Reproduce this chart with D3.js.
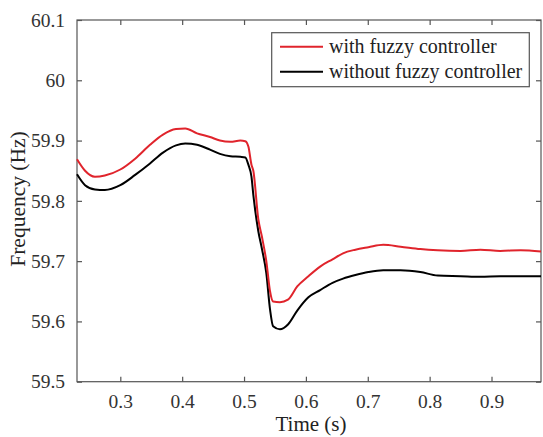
<!DOCTYPE html>
<html><head><meta charset="utf-8">
<script src="https://cdn.jsdelivr.net/npm/d3@7"></script>
<style>body{margin:0;background:#fff;}svg{display:block;}</style>
</head><body>
<svg id="c" width="543" height="437"></svg>
<script>
const time = [0.230,0.243,0.259,0.275,0.300,0.324,0.348,0.369,0.390,0.405,0.424,0.445,0.461,0.478,0.494,0.502,0.507,0.512,0.515,0.523,0.529,0.536,0.542,0.547,0.558,0.571,0.586,0.604,0.623,0.643,0.660,0.680,0.701,0.725,0.753,0.785,0.813,0.850,0.882,0.914,0.947,0.980];
const withFuzzy = [59.869,59.850,59.840,59.842,59.852,59.870,59.893,59.910,59.919,59.920,59.912,59.906,59.900,59.898,59.900,59.899,59.890,59.860,59.850,59.770,59.740,59.700,59.650,59.633,59.632,59.636,59.658,59.675,59.691,59.703,59.713,59.719,59.723,59.727,59.724,59.720,59.718,59.717,59.719,59.717,59.718,59.716];
const withoutFuzzy = [59.844,59.826,59.819,59.818,59.826,59.843,59.862,59.880,59.892,59.895,59.893,59.885,59.878,59.874,59.873,59.872,59.860,59.840,59.810,59.750,59.720,59.680,59.620,59.592,59.587,59.595,59.618,59.640,59.652,59.664,59.671,59.677,59.682,59.685,59.685,59.682,59.676,59.675,59.674,59.675,59.675,59.675];
const xTicks = [0.3,0.4,0.5,0.6,0.7,0.8,0.9];
const yTicks = [59.5,59.6,59.7,59.8,59.9,60,60.1];
const seriesNames = ["with fuzzy controller","without fuzzy controller"];
const seriesColors = ["#e0242c","#000000"];

const svg = d3.select("#c");
const L=77, T=20, R=541, B=381.7;
const x = d3.scaleLinear().domain([0.23,0.98]).range([L,R]);
const y = d3.scaleLinear().domain([59.5,60.1]).range([B,T]);
const font = "'Liberation Serif', 'Times New Roman', serif";
const axisCol = "#555";

// box
svg.append("rect").attr("x",L).attr("y",T).attr("width",R-L).attr("height",B-T)
  .attr("fill","none").attr("stroke",axisCol).attr("stroke-width",1.2);

const tickLen = 5;
const gx = svg.append("g").attr("transform",`translate(0,${B})`)
  .call(d3.axisBottom(x).tickValues(xTicks).tickFormat(d3.format(".1f")).tickSizeInner(-tickLen).tickSizeOuter(0).tickPadding(12));
const gxTop = svg.append("g").attr("transform",`translate(0,${T})`)
  .call(d3.axisTop(x).tickValues(xTicks).tickFormat("").tickSizeInner(-tickLen).tickSizeOuter(0));
const gy = svg.append("g").attr("transform",`translate(${L},0)`)
  .call(d3.axisLeft(y).tickValues(yTicks).tickFormat(d=>d===60?"60":d3.format(".1f")(d)).tickSizeInner(-tickLen).tickSizeOuter(0).tickPadding(12));
const gyR = svg.append("g").attr("transform",`translate(${R},0)`)
  .call(d3.axisRight(y).tickValues(yTicks).tickFormat("").tickSizeInner(-tickLen).tickSizeOuter(0));
[gx,gxTop,gy,gyR].forEach(g=>{
  g.select(".domain").remove();
  g.selectAll("line").attr("stroke",axisCol).attr("stroke-width",1.2);
  g.selectAll("text").attr("fill","#333").style("font-family",font).style("font-size","19.5px");
});

const line = d3.line().x((d,i)=>x(time[i])).y(d=>y(d)).curve(d3.curveMonotoneX);
svg.append("path").datum(withoutFuzzy).attr("d",line).attr("fill","none").attr("stroke",seriesColors[1]).attr("stroke-width",2);
svg.append("path").datum(withFuzzy).attr("d",line).attr("fill","none").attr("stroke",seriesColors[0]).attr("stroke-width",2);

// axis titles
svg.append("text").attr("x",(L+R)/2+2).attr("y",431).attr("text-anchor","middle")
  .style("font-family",font).style("font-size","21px").attr("fill","#222").text("Time (s)");
svg.append("text").attr("transform","translate(25,199) rotate(-90)").attr("text-anchor","middle")
  .style("font-family",font).style("font-size","21.5px").attr("fill","#222").text("Frequency (Hz)");

// legend
const lg = svg.append("g");
lg.append("rect").attr("x",271.7).attr("y",32.7).attr("width",257.6).attr("height",54)
  .attr("fill","#fff").attr("stroke","#555").attr("stroke-width",1.2);
seriesNames.forEach((n,i)=>{
  const yy = 46.7 + i*25;
  lg.append("line").attr("x1",280).attr("x2",323).attr("y1",yy).attr("y2",yy)
    .attr("stroke",seriesColors[i]).attr("stroke-width",2);
  lg.append("text").attr("x",329).attr("y",yy+6.5).style("font-family",font).style("font-size","20px")
    .attr("fill","#222").text(n);
});
</script>
</body></html>
